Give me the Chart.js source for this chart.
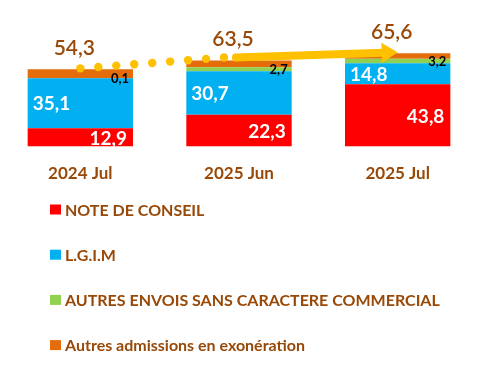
<!DOCTYPE html>
<html><head><meta charset="utf-8">
<script src="https://cdn.jsdelivr.net/npm/chart.js@4/dist/chart.umd.min.js"></script>
<style>html,body{margin:0;padding:0;background:#fff;overflow:hidden}#wrap{width:482px;height:369px;position:relative}</style>
</head><body><div id="wrap"><canvas id="c" width="482" height="369"></canvas></div>
<script>
const categories = ['2024 Jul', '2025 Jun', '2025 Jul'];
const noteDeConseil = [12.9, 22.3, 43.8];
const lgim = [35.1, 30.7, 14.8];
const autresEnvois = [0.1, 2.7, 3.2];
const autresAdmissions = [6.2, 4.8, 3.8];
const totals = [54.3, 63.5, 65.6];
const seriesNames = ['NOTE DE CONSEIL', 'L.G.I.M', 'AUTRES ENVOIS SANS CARACTERE COMMERCIAL', 'Autres admissions en exonération'];
const seriesColors = ['#FF0000', '#00B0F0', '#92D050', '#E46C0A'];

const BROWN = '#984807';
const GOLD = '#FFC000';
const FONT = 'Lato, Carlito, "Open Sans", sans-serif';
const fmt = v => v.toFixed(1).replace('.', ',');

const seriesValues = [noteDeConseil, lgim, autresEnvois, autresAdmissions];

const labelPlugin = {
  id: 'segLabels',
  afterDatasetsDraw(chart) {
    const ctx = chart.ctx;
    ctx.save();
    const mTop = chart.getDatasetMeta(3);
    const b1 = mTop.data[0], b2 = mTop.data[1], b3 = mTop.data[2];
    ctx.fillStyle = GOLD;
    const p1 = {x: b1.x, y: b1.y - 1}, p2 = {x: b2.x - 15, y: b2.y - 3};
    const n = 9;
    for (let k = 0; k < n; k++) {
      const t = k / (n - 1);
      ctx.beginPath();
      ctx.arc(p1.x + (p2.x - p1.x) * t, p1.y + (p2.y - p1.y) * t, 4.2, 0, Math.PI * 2);
      ctx.fill();
    }
    const s = {x: b2.x - 3, y: b2.y - 3}, e = {x: b3.x, y: b3.y - 1};
    const ang = Math.atan2(e.y - s.y, e.x - s.x);
    const headLen = 16, headW = 10;
    const hb = {x: e.x - headLen * Math.cos(ang), y: e.y - headLen * Math.sin(ang)};
    ctx.strokeStyle = GOLD;
    ctx.lineWidth = 8;
    ctx.lineCap = 'round';
    ctx.beginPath();
    ctx.moveTo(s.x, s.y);
    ctx.lineTo(hb.x + 2 * Math.cos(ang), hb.y + 2 * Math.sin(ang));
    ctx.stroke();
    ctx.beginPath();
    ctx.moveTo(e.x, e.y);
    ctx.lineTo(hb.x - headW * Math.sin(ang), hb.y + headW * Math.cos(ang));
    ctx.lineTo(hb.x + headW * Math.sin(ang), hb.y - headW * Math.cos(ang));
    ctx.closePath();
    ctx.fill();

    ctx.textBaseline = 'middle';
    chart.data.datasets.forEach((ds, i) => {
      const meta = chart.getDatasetMeta(i);
      meta.data.forEach((el, j) => {
        const v = ds.data[j];
        const cy = (el.y + el.base) / 2 + 1;
        if (i === 0) {
          ctx.font = 'bold 19px ' + FONT; ctx.fillStyle = '#fff'; ctx.textAlign = 'right';
          ctx.fillText(fmt(v), el.x + el.width / 2 - 6, cy);
        } else if (i === 1) {
          ctx.font = 'bold 19px ' + FONT; ctx.fillStyle = '#fff'; ctx.textAlign = 'left';
          ctx.fillText(fmt(v), el.x - el.width / 2 + 5, cy);
        } else if (i === 2) {
          ctx.font = 'bold 13px ' + FONT; ctx.fillStyle = '#000'; ctx.textAlign = 'right';
          ctx.fillText(fmt(v), el.x + el.width / 2 - 4, cy);
        }
      });
    });
    ctx.font = '600 21px ' + FONT; ctx.fillStyle = BROWN; ctx.textAlign = 'center';
    totals.forEach((t, j) => {
      const el = mTop.data[j];
      ctx.fillText(fmt(t), el.x - 6, el.y - 21);
    });
    ctx.restore();
  },
  afterDraw(chart) {
    const ctx = chart.ctx;
    ctx.save();
    ctx.textBaseline = 'middle';
    ctx.textAlign = 'left';
    ctx.font = 'bold 16px ' + FONT;
    chart.data.datasets.forEach((ds, i) => {
      const y = 209.5 + i * 45.2;
      ctx.fillStyle = ds.backgroundColor;
      ctx.fillRect(50, y - 5, 11, 10);
      ctx.fillStyle = BROWN;
      ctx.fillText(ds.label, 65, y + 1);
    });
    ctx.restore();
  }
};

new Chart(document.getElementById('c'), {
  type: 'bar',
  data: {
    labels: categories,
    datasets: seriesNames.map((name, i) => ({
      label: name,
      data: seriesValues[i],
      backgroundColor: seriesColors[i],
      borderWidth: 0,
      barPercentage: 0.83,
      categoryPercentage: 0.8
    }))
  },
  options: {
    responsive: false,
    animation: false,
    devicePixelRatio: 1,
    layout: {padding: {top: 47, left: 1, right: 5, bottom: 168}},
    plugins: {legend: {display: false}, tooltip: {enabled: false}},
    scales: {
      x: {
        stacked: true,
        grid: {display: false, drawTicks: false},
        border: {display: false},
        ticks: {color: BROWN, font: {family: FONT, size: 17, weight: 'bold'}, padding: 17}
      },
      y: {stacked: true, display: false, min: 0, max: 70}
    }
  },
  plugins: [labelPlugin]
});
</script></body></html>
